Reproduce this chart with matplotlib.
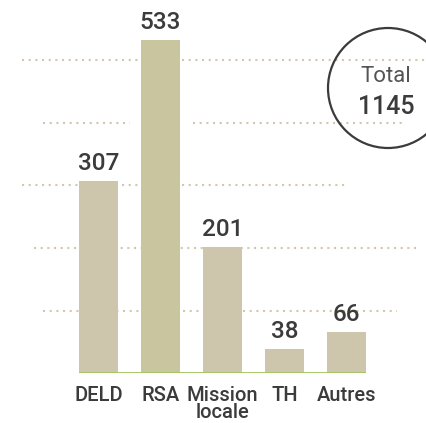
import matplotlib.pyplot as plt
from matplotlib.patches import Ellipse

categories = ['DELD', 'RSA', 'Mission\nlocale', 'TH', 'Autres']
values = [307, 533, 201, 38, 66]
total = 1145
grid_levels = [100, 200, 300, 400, 500]

plt.rcParams['font.family'] = ['Roboto', 'DejaVu Sans']

W, H = 426, 423
fig = plt.figure(figsize=(W / 100, H / 100), dpi=100)
fig.patch.set_facecolor('white')

# axes: baseline at 50px from bottom, 0.625 px per unit, 62 px per category
ax = fig.add_axes([0, 50 / H, 1, 373 / H])
ax.set_xlim(-98.5 / 62, (W - 98.5) / 62)
ax.set_ylim(0, 373 / 0.625)
ax.axis('off')

bar_colors = ['#cec5ad', '#c8c59f', '#cec5ad', '#cec5ad', '#cec5ad']
x = list(range(len(categories)))
bars = ax.bar(x, values, width=0.615, color=bar_colors, zorder=3)

# dotted guide lines (segments in pixels across the figure width)
dot = dict(color='#d2c8b0', linewidth=1.5, linestyle=(0, (1, 2.2)), zorder=1)
segments = {
    500: [(22, 426)],
    400: [(43, 130), (193, 405)],
    300: [(22, 347)],
    200: [(34, 418)],
    100: [(43, 397)],
}
for lvl in grid_levels:
    for a, b in segments[lvl]:
        ax.axhline(lvl, xmin=a / W, xmax=b / W, **dot)

# green baseline
ax.plot([x[0] - 0.31, x[-1] + 0.31], [0, 0], color='#a3c65e', linewidth=1.3, zorder=4,
        solid_capstyle='butt')

for xi, v in zip(x, values):
    ax.annotate(str(v), (xi, v), xytext=(0, 8), textcoords='offset points',
                ha='center', va='baseline', fontsize=17.5, fontweight='medium',
                color='#3b3b3b')

for xi, lab in zip(x, categories):
    ax.annotate(lab, (xi, 0), xytext=(0, -9), textcoords='offset points',
                ha='center', va='top', fontsize=14.5, fontweight='medium',
                color='#3b3b3b', linespacing=0.92)

# total circle
circ = Ellipse((388 / W, 1 - 88 / H), 120 / W, 120 / H, transform=fig.transFigure,
               facecolor='none', edgecolor='#3b3b3b', linewidth=1.6, zorder=5)
fig.add_artist(circ)
fig.text(386 / W, 1 - 77 / H, 'Total', ha='center', va='center', fontsize=16,
         color='#555555', fontweight='normal')
fig.text(386 / W, 1 - 107 / H, str(total), ha='center', va='center', fontsize=18,
         color='#3b3b3b', fontweight='medium')

fig.savefig('out.png', dpi=100)
